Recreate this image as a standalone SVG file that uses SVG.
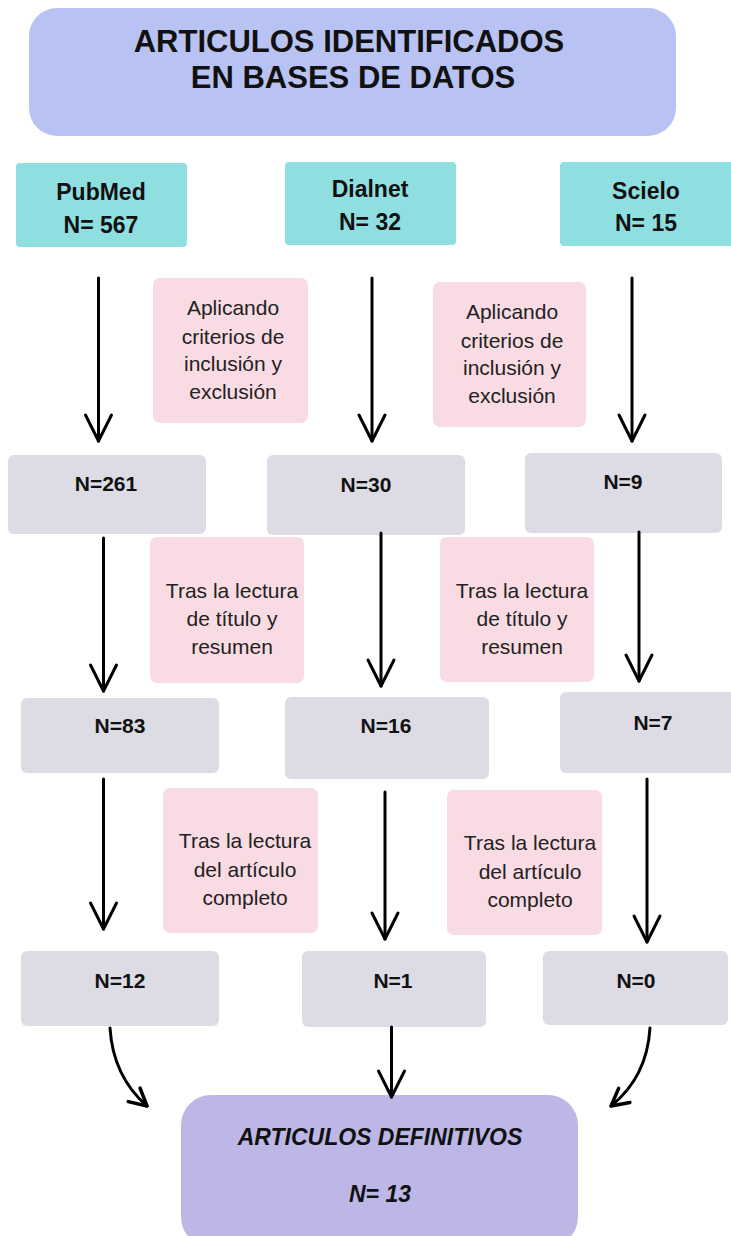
<svg xmlns="http://www.w3.org/2000/svg" width="731" height="1236" viewBox="0 0 731 1236">
<style>
.title{font-family:"Liberation Sans",Arial,sans-serif;font-weight:bold;font-size:31px;fill:#111;text-anchor:middle}
.db{font-family:"Liberation Sans",Arial,sans-serif;font-weight:bold;font-size:23px;fill:#111;text-anchor:middle}
.num{font-family:"Liberation Sans",Arial,sans-serif;font-weight:bold;font-size:21px;fill:#111;text-anchor:middle}
.note{font-family:"Liberation Sans",Arial,sans-serif;font-size:21px;fill:#222;text-anchor:middle}
.final{font-family:"Liberation Sans",Arial,sans-serif;font-weight:bold;font-style:italic;font-size:23px;fill:#111;text-anchor:middle}
.teal{fill:#8fdfe1}
.pink{fill:#f9dbe3}
.gray{fill:#dddce4}
.arrow{fill:none;stroke:#000;stroke-width:3;stroke-linecap:round}
</style>
<defs>
<marker id="ah" markerUnits="userSpaceOnUse" viewBox="-30 -16 34 32" refX="0" refY="0" markerWidth="34" markerHeight="32" orient="auto" overflow="visible">
<path d="M-26,-13 L0,0 L-26,13" fill="none" stroke="#000" stroke-width="3" stroke-linecap="round" stroke-linejoin="round"/>
</marker>
<marker id="ahs" markerUnits="userSpaceOnUse" viewBox="-22 -12 26 24" refX="0" refY="0" markerWidth="26" markerHeight="24" orient="auto" overflow="visible">
<path d="M-17,-9 L0,0 L-17,9" fill="none" stroke="#000" stroke-width="3.5" stroke-linecap="round" stroke-linejoin="round"/>
</marker>
</defs>
<rect width="731" height="1236" fill="#fff"/>

<g id="title">
<rect x="29" y="8" width="647" height="128" rx="28" fill="#b8c3f4"/>
<text class="title" x="349" y="52">ARTICULOS IDENTIFICADOS</text>
<text class="title" x="353" y="88">EN BASES DE DATOS</text>
</g>

<g id="pubmed">
<rect class="teal" x="16" y="163" width="171" height="84" rx="4"/>
<text class="db" x="101" y="200">PubMed</text>
<text class="db" x="101" y="233">N= 567</text>
</g>
<g id="dialnet">
<rect class="teal" x="285" y="162" width="171" height="83" rx="4"/>
<text class="db" x="370" y="197">Dialnet</text>
<text class="db" x="370" y="230">N= 32</text>
</g>
<g id="scielo">
<rect class="teal" x="560" y="162" width="175" height="84" rx="4"/>
<text class="db" x="646" y="199">Scielo</text>
<text class="db" x="646" y="231">N= 15</text>
</g>

<g id="note1a">
<rect class="pink" x="153" y="278" width="155" height="145" rx="7"/>
<text class="note" x="233" y="315">Aplicando</text>
<text class="note" x="233" y="344">criterios de</text>
<text class="note" x="233" y="371">inclusión y</text>
<text class="note" x="233" y="399">exclusión</text>
</g>
<g id="note1b">
<rect class="pink" x="433" y="282" width="153" height="145" rx="7"/>
<text class="note" x="512" y="319">Aplicando</text>
<text class="note" x="512" y="348">criterios de</text>
<text class="note" x="512" y="375">inclusión y</text>
<text class="note" x="512" y="403">exclusión</text>
</g>

<g id="p261">
<rect class="gray" x="8" y="455" width="198" height="79" rx="6"/>
<text class="num" x="106" y="491">N=261</text>
</g>
<g id="d30">
<rect class="gray" x="267" y="455" width="198" height="80" rx="6"/>
<text class="num" x="366" y="492">N=30</text>
</g>
<g id="s9">
<rect class="gray" x="525" y="453" width="197" height="80" rx="6"/>
<text class="num" x="623" y="489">N=9</text>
</g>

<g id="note2a">
<rect class="pink" x="150" y="537" width="154" height="146" rx="7"/>
<text class="note" x="232" y="598">Tras la lectura</text>
<text class="note" x="232" y="626">de título y</text>
<text class="note" x="232" y="654">resumen</text>
</g>
<g id="note2b">
<rect class="pink" x="440" y="537" width="154" height="145" rx="7"/>
<text class="note" x="522" y="598">Tras la lectura</text>
<text class="note" x="522" y="626">de título y</text>
<text class="note" x="522" y="654">resumen</text>
</g>

<g id="p83">
<rect class="gray" x="21" y="698" width="198" height="75" rx="6"/>
<text class="num" x="120" y="733">N=83</text>
</g>
<g id="d16">
<rect class="gray" x="285" y="697" width="204" height="82" rx="6"/>
<text class="num" x="386" y="733">N=16</text>
</g>
<g id="s7">
<rect class="gray" x="560" y="692" width="180" height="81" rx="6"/>
<text class="num" x="653" y="730">N=7</text>
</g>

<g id="note3a">
<rect class="pink" x="163" y="788" width="155" height="145" rx="7"/>
<text class="note" x="245" y="848">Tras la lectura</text>
<text class="note" x="245" y="877">del artículo</text>
<text class="note" x="245" y="905">completo</text>
</g>
<g id="note3b">
<rect class="pink" x="447" y="790" width="155" height="145" rx="7"/>
<text class="note" x="530" y="850">Tras la lectura</text>
<text class="note" x="530" y="879">del artículo</text>
<text class="note" x="530" y="907">completo</text>
</g>

<g id="p12">
<rect class="gray" x="21" y="951" width="198" height="75" rx="6"/>
<text class="num" x="120" y="988">N=12</text>
</g>
<g id="d1">
<rect class="gray" x="302" y="951" width="184" height="76" rx="6"/>
<text class="num" x="393" y="988">N=1</text>
</g>
<g id="s0">
<rect class="gray" x="543" y="951" width="185" height="74" rx="6"/>
<text class="num" x="636" y="988">N=0</text>
</g>

<g id="final">
<rect x="181" y="1095" width="397" height="152" rx="30" fill="#bdb7e7"/>
<text class="final" x="380" y="1145">ARTICULOS DEFINITIVOS</text>
<text class="final" x="380" y="1202">N= 13</text>
</g>

<g id="connectors">
<path class="arrow" d="M98.5,278 V441" marker-end="url(#ah)"/>
<path class="arrow" d="M372,278 V441" marker-end="url(#ah)"/>
<path class="arrow" d="M632,278 V441" marker-end="url(#ah)"/>
<path class="arrow" d="M103.5,538 V691" marker-end="url(#ah)"/>
<path class="arrow" d="M381,533 V686" marker-end="url(#ah)"/>
<path class="arrow" d="M639,532 V681" marker-end="url(#ah)"/>
<path class="arrow" d="M103.5,779 V929" marker-end="url(#ah)"/>
<path class="arrow" d="M385,792 V939" marker-end="url(#ah)"/>
<path class="arrow" d="M647,779 V942" marker-end="url(#ah)"/>
<path class="arrow" d="M391.5,1027 V1097" marker-end="url(#ah)"/>
<path class="arrow" d="M110,1028 C112,1060 124,1086 147,1106" marker-end="url(#ahs)"/>
<path class="arrow" d="M650,1028 C648,1060 636,1086 611,1106" marker-end="url(#ahs)"/>
</g>
</svg>
